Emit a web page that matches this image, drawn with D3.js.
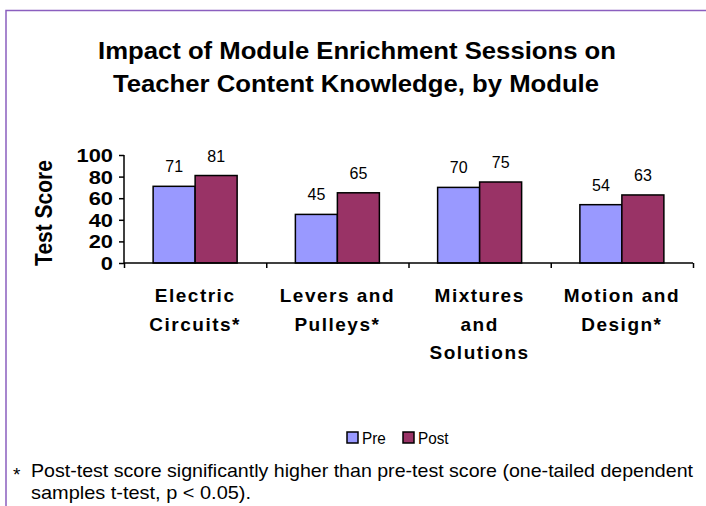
<!DOCTYPE html>
<html><head><meta charset="utf-8">
<script src="https://cdn.jsdelivr.net/npm/d3@7"></script>
<style>html,body{margin:0;padding:0;background:#fff;}svg{display:block;}</style>
</head><body>
<script>
const categories = [["Electric","Circuits*"],["Levers and","Pulleys*"],["Mixtures","and","Solutions"],["Motion and","Design*"]];
const seriesNames = ["Pre","Post"];
const preValues = [71,45,70,54];
const postValues = [81,65,75,63];
const yTicks = [0,20,40,60,80,100];
const titleLines = ["Impact of Module Enrichment Sessions on","Teacher Content Knowledge, by Module"];
const footnoteLines = ["Post-test score significantly higher than pre-test score (one-tailed dependent","samples t-test, p < 0.05)."];
const colors = ["#9999FF","#993366"];

const W=706,H=506;
const svg=d3.select("body").append("svg").attr("width",W).attr("height",H);
svg.append("rect").attr("width",W).attr("height",H).attr("fill","#fff");
// frame
svg.append("path").attr("d",`M6,${H} L6,10.5 L${W},10.5`).attr("fill","none").attr("stroke","#8B5FBF").attr("stroke-width",1.5);

const FONT="Liberation Sans, Arial, sans-serif";
function txt(x,y,s,o){
  const g=svg.append("g").attr("transform",`translate(${x},${y}) scale(${o.sx||1},1)`+(o.rot?` rotate(${o.rot})`:""));
  const t=g.append("text").attr("x",0).attr("y",0).text(s)
    .attr("font-family",FONT).attr("font-size",o.size).attr("font-weight",o.weight||"normal")
    .attr("text-anchor",o.anchor||"start").attr("fill","#000");
  if(o.ls){t.attr("letter-spacing",o.ls);}
  if(o.len){t.attr("textLength",o.len/(o.sx||1)).attr("lengthAdjust","spacingAndGlyphs");}
  return t;
}

// title
txt(357,59,titleLines[0],{size:23,weight:"bold",anchor:"middle",len:518});
txt(356,92,titleLines[1],{size:23,weight:"bold",anchor:"middle",len:486});

const x0=124,x1=693,yTop=155,yBot=263;
const x=d3.scaleBand().domain(d3.range(categories.length)).range([x0,x1]).paddingInner(0).paddingOuter(0);
const y=d3.scaleLinear().domain([0,100]).range([yBot,yTop]);
const groupW=84;
const xs=d3.scaleBand().domain(seriesNames).range([0,groupW]);

// bars
const series=[preValues,postValues];
series.forEach((vals,si)=>{
  svg.append("g").selectAll("rect").data(vals).join("rect")
    .attr("x",(d,i)=>x(i)+(x.bandwidth()-groupW)/2+xs(seriesNames[si]))
    .attr("y",d=>y(d)).attr("width",xs.bandwidth()).attr("height",d=>y(0)-y(d))
    .attr("fill",colors[si]).attr("stroke","#000").attr("stroke-width",1.5);
  vals.forEach((d,i)=>{
    txt(x(i)+(x.bandwidth()-groupW)/2+xs(seriesNames[si])+xs.bandwidth()/2, y(d)-14, String(d),{size:16,anchor:"middle"});
  });
});

// y axis
const yAxis=svg.append("g").attr("transform",`translate(${x0},0)`)
  .call(d3.axisLeft(y).tickValues(yTicks).tickSize(5).tickFormat(""));
yAxis.select(".domain").attr("stroke","#000").attr("stroke-width",1.5).attr("d",`M0,${yTop}V${yBot}`);
yAxis.selectAll(".tick line").attr("stroke","#000").attr("stroke-width",1.5);
yTicks.forEach(v=>{ txt(113,y(v)+7,String(v),{size:19,weight:"bold",anchor:"end",sx:1.15}); });

// x axis
const xAxis=svg.append("g").attr("transform",`translate(0,${yBot})`)
  .call(d3.axisBottom(d3.scaleLinear().domain([0,categories.length]).range([x0,x1])).tickValues(d3.range(categories.length+1)).tickSize(5).tickFormat(""));
xAxis.select(".domain").attr("stroke","#000").attr("stroke-width",1.5).attr("d",`M${x0},0H${x1}`);
xAxis.selectAll(".tick line").attr("stroke","#000").attr("stroke-width",1.5);

categories.forEach((lines,i)=>{
  lines.forEach((l,j)=>{ txt(x(i)+x.bandwidth()/2, 302+j*28.5, l,{size:19,weight:"bold",anchor:"middle",ls:1.5}); });
});

// y label
txt(52,213,"Test Score",{size:21,weight:"bold",anchor:"middle",sx:1.1,rot:-90});

// legend
const leg=[{x:347,tx:362},{x:403,tx:418}];
seriesNames.forEach((n,i)=>{
  svg.append("rect").attr("x",leg[i].x).attr("y",432).attr("width",11).attr("height",11)
    .attr("fill",colors[i]).attr("stroke","#000").attr("stroke-width",1.5);
  txt(leg[i].tx,444,n,{size:17,sx:0.9});
});

// footnote
txt(13,481,"*",{size:19});
txt(31,477,footnoteLines[0],{size:19,len:662});
txt(31,499,footnoteLines[1],{size:19,len:220});
</script>
</body></html>
